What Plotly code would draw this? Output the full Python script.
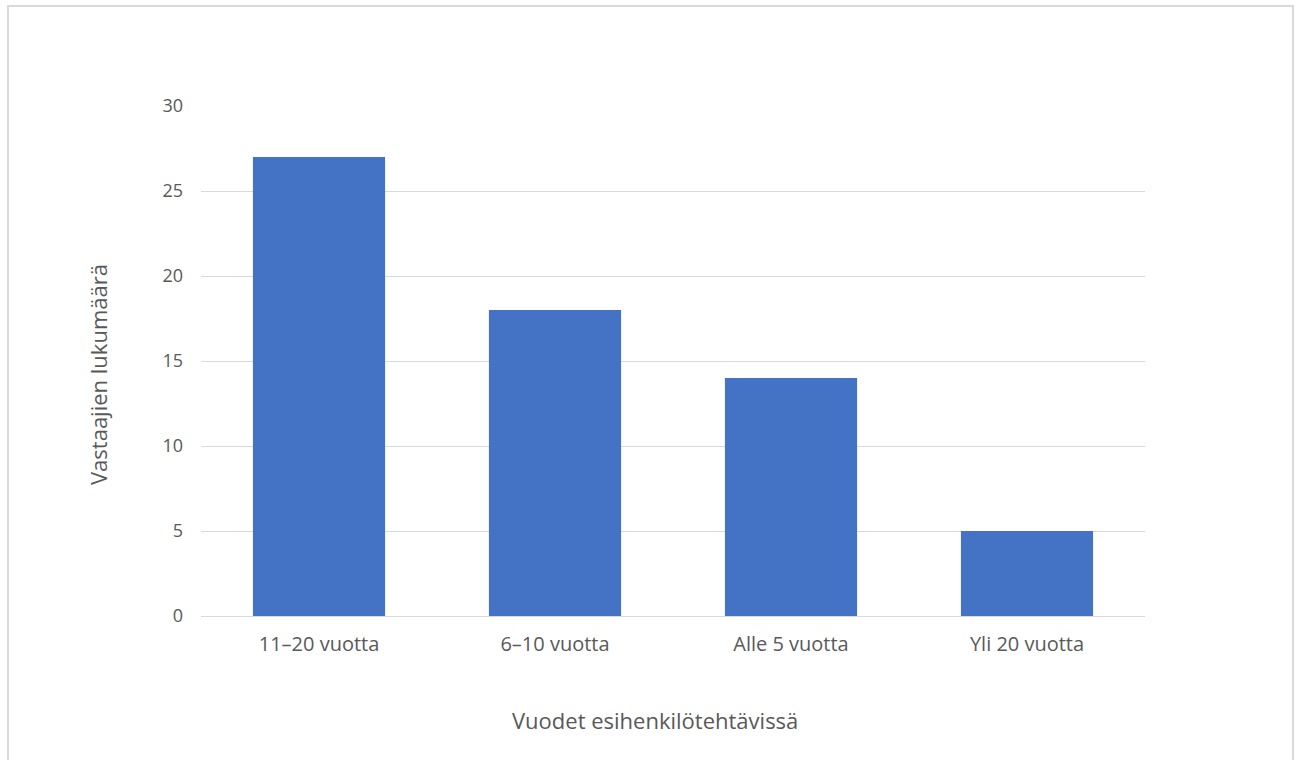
import plotly.graph_objects as go

# Respondents by years in supervisory roles
categories = ["11–20 vuotta", "6–10 vuotta", "Alle 5 vuotta", "Yli 20 vuotta"]
counts = [27, 18, 14, 5]
y_ticks = [0, 5, 10, 15, 20, 25, 30]
x_title = "Vuodet esihenkilötehtävissä"
y_title = "Vastaajien lukumäärä"

BAR_COLOR = "#4472C4"
GRID_COLOR = "#D9D9D9"
TEXT_COLOR = "#595959"
FONT = "Open Sans, Noto Sans, sans-serif"

W, H = 1297, 760
L, R, T, B = 201, 152, 106, 144
pw, ph = W - L - R, H - T - B


def px_x(x):
    return (x - L) / pw


def px_y(y):
    return (H - B - y) / ph


fig = go.Figure(
    go.Bar(
        x=categories,
        y=counts,
        marker=dict(color=BAR_COLOR, line=dict(width=0)),
        hoverinfo="x+y",
    )
)

fig.update_layout(
    width=W,
    height=H,
    margin=dict(l=L, r=R, t=T, b=B),
    paper_bgcolor="white",
    plot_bgcolor="white",
    bargap=0.44,
    showlegend=False,
    font=dict(family=FONT, color=TEXT_COLOR),
    shapes=[
        # outer chart frame
        dict(
            type="rect",
            xref="paper",
            yref="paper",
            x0=px_x(8),
            x1=px_x(1293),
            y0=px_y(780),
            y1=px_y(6),
            line=dict(color="#D9D9D9", width=2),
            fillcolor="rgba(0,0,0,0)",
            layer="below",
        )
    ],
    annotations=[
        # axis titles, centred on the whole chart frame
        dict(
            text=x_title,
            xref="paper",
            yref="paper",
            x=px_x(655),
            y=px_y(720),
            xanchor="center",
            yanchor="middle",
            showarrow=False,
            font=dict(size=22, color=TEXT_COLOR),
        ),
        dict(
            text=y_title,
            xref="paper",
            yref="paper",
            x=px_x(98),
            y=px_y(375),
            xanchor="center",
            yanchor="middle",
            textangle=-90,
            showarrow=False,
            font=dict(size=22, color=TEXT_COLOR),
        ),
    ],
)

fig.update_xaxes(
    showgrid=False,
    showline=False,
    zeroline=False,
    ticks="",
    tickfont=dict(size=20, color=TEXT_COLOR),
    ticklabelstandoff=14,
)

fig.update_yaxes(
    range=[0, 30],
    tickvals=y_ticks,
    showgrid=True,
    gridcolor=GRID_COLOR,
    gridwidth=1,
    zeroline=True,
    zerolinecolor=GRID_COLOR,
    zerolinewidth=1,
    showline=False,
    ticks="",
    tickfont=dict(size=18, color=TEXT_COLOR),
    ticklabelstandoff=17,
)

fig.write_html("out.html")
